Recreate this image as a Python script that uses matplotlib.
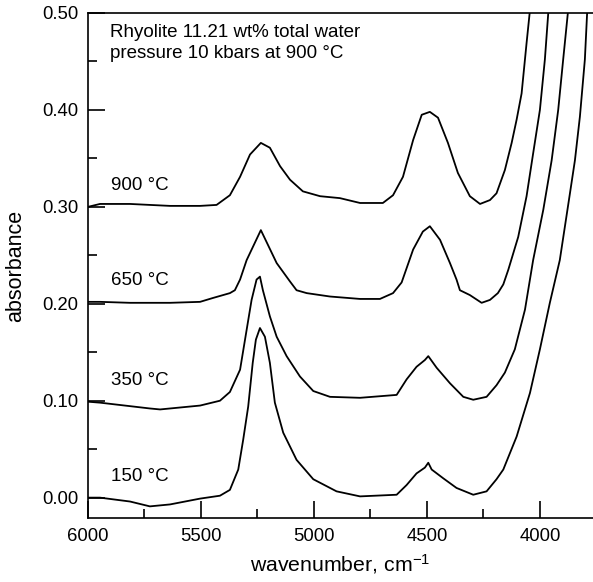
import matplotlib
matplotlib.use("Agg")
import matplotlib.pyplot as plt
from matplotlib.ticker import MultipleLocator

plt.rcParams['font.family'] = ['Liberation Sans', 'DejaVu Sans']
plt.rcParams['mathtext.default'] = 'regular'

# spectra (wavenumber in cm-1, absorbance)
wn_900 = [6000, 5947, 5814, 5726, 5637, 5504, 5431, 5372, 5327, 5283, 5235, 5195, 5150,
          5106, 5049, 4973, 4885, 4796, 4695, 4650, 4606, 4561, 4523, 4487, 4451, 4407,
          4363, 4310, 4265, 4221, 4192, 4155, 4125, 4103, 4081, 4059, 4044]
abs_900 = [0.300, 0.303, 0.303, 0.302, 0.301, 0.301, 0.302, 0.312, 0.331, 0.354, 0.366, 0.361, 0.342,
           0.328, 0.316, 0.311, 0.309, 0.304, 0.304, 0.312, 0.331, 0.369, 0.395, 0.398, 0.392, 0.366,
           0.335, 0.311, 0.303, 0.307, 0.314, 0.338, 0.366, 0.390, 0.417, 0.469, 0.503]

wn_650 = [6000, 5947, 5814, 5637, 5504, 5447, 5372, 5350, 5327, 5298, 5235, 5165, 5106, 5077,
          5032, 4929, 4796, 4708, 4650, 4612, 4561, 4518, 4487, 4442, 4398, 4369, 4354, 4310,
          4258, 4221, 4186, 4162, 4140, 4096, 4059, 4030, 4000, 3978, 3963]
abs_650 = [0.202, 0.202, 0.201, 0.201, 0.202, 0.206, 0.211, 0.214, 0.225, 0.245, 0.276, 0.242, 0.223, 0.214,
           0.211, 0.2075, 0.205, 0.205, 0.211, 0.222, 0.256, 0.2745, 0.280, 0.266, 0.242, 0.225, 0.214, 0.209,
           0.201, 0.204, 0.211, 0.220, 0.235, 0.269, 0.311, 0.355, 0.400, 0.452, 0.500]

wn_350 = [6000, 5947, 5726, 5681, 5504, 5416, 5372, 5327, 5298, 5276, 5254, 5239, 5226, 5195,
          5165, 5121, 5062, 5003, 4929, 4796, 4634, 4590, 4546, 4509, 4494, 4457, 4398, 4339,
          4295, 4236, 4192, 4155, 4111, 4066, 4030, 3985, 3948, 3919, 3897, 3875]
abs_350 = [0.099, 0.098, 0.092, 0.091, 0.095, 0.100, 0.109, 0.132, 0.173, 0.204, 0.225, 0.228, 0.214, 0.187,
           0.166, 0.146, 0.125, 0.110, 0.104, 0.103, 0.106, 0.122, 0.135, 0.142, 0.146, 0.134, 0.118, 0.104,
           0.101, 0.104, 0.116, 0.129, 0.153, 0.194, 0.245, 0.297, 0.348, 0.400, 0.452, 0.503]

wn_150 = [6000, 5947, 5814, 5726, 5637, 5504, 5416, 5372, 5335, 5313, 5291, 5271, 5257, 5239,
          5217, 5195, 5173, 5136, 5077, 5003, 4900, 4796, 4634, 4590, 4546, 4509, 4494, 4479,
          4428, 4369, 4295, 4236, 4192, 4162, 4103, 4044, 4000, 3956, 3912, 3867, 3845, 3823,
          3801, 3791]
abs_150 = [0.000, 0.000, -0.004, -0.009, -0.007, -0.001, 0.002, 0.008, 0.029, 0.060, 0.094, 0.139, 0.163, 0.175,
           0.166, 0.139, 0.098, 0.067, 0.039, 0.019, 0.0065, 0.0013, 0.003, 0.013, 0.025, 0.031, 0.036, 0.029,
           0.020, 0.010, 0.003, 0.0065, 0.019, 0.029, 0.063, 0.108, 0.153, 0.201, 0.245, 0.314, 0.348, 0.393,
           0.452, 0.500]

labels = ['900 °C', '650 °C', '350 °C', '150 °C']
note_lines = ['Rhyolite 11.21 wt% total water', 'pressure 10 kbars at 900 °C']

fig = plt.figure(figsize=(5.93, 5.82), dpi=100)
ax = fig.add_axes([88 / 593, 64 / 582, 505 / 593, 505 / 582])

series = [(wn_900, abs_900), (wn_650, abs_650), (wn_350, abs_350), (wn_150, abs_150)]
for (wn, ab), lab in zip(series, labels):
    ax.plot(wn, ab, color='black', lw=1.3, solid_joinstyle='round')
    ax.text(5898, ab[0] + 0.022, lab, fontsize=13.5, va='center', ha='left')

# two-line note in the top left corner
for i, line in enumerate(note_lines):
    ax.text(5903, 0.475 - i * 0.0215, line, fontsize=13.5, va='baseline', ha='left')

ax.set_xlim(6000, 3765)
ax.set_ylim(-0.021, 0.5)
ax.xaxis.set_major_locator(MultipleLocator(500))
ax.xaxis.set_minor_locator(MultipleLocator(250))
ax.yaxis.set_major_locator(MultipleLocator(0.1))
ax.yaxis.set_minor_locator(MultipleLocator(0.05))
ax.yaxis.set_major_formatter(plt.FormatStrFormatter('%.2f'))
ax.tick_params(which='both', direction='in', width=1.2, labelsize=13.3, top=False, right=False)
ax.tick_params(which='major', length=12.5, pad=7)
ax.tick_params(which='minor', length=6.5)

for s in ['left', 'bottom', 'top']:
    ax.spines[s].set_linewidth(1.2)
ax.spines['right'].set_visible(False)

ax.set_xlabel('wavenumber, cm$^{-1}$', fontsize=15.3, labelpad=5)
ax.set_ylabel('absorbance', fontsize=15.5)
ax.yaxis.set_label_coords(-0.122, 0.5)

fig.savefig('out.png', dpi=100)
